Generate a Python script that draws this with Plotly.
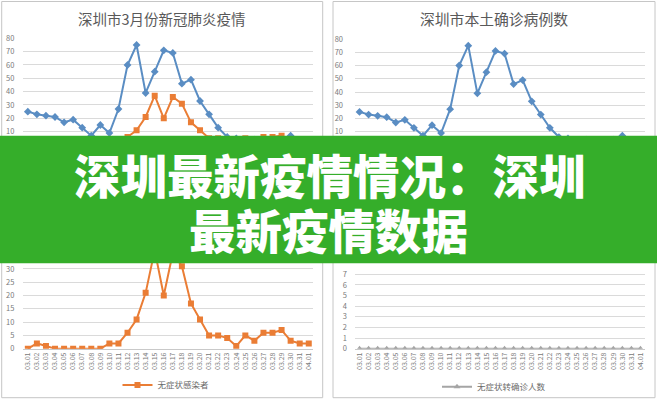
import plotly.graph_objects as go

dates = ["03.01", "03.02", "03.03", "03.04", "03.05", "03.06", "03.07", "03.08",
         "03.09", "03.10", "03.11", "03.12", "03.13", "03.14", "03.15", "03.16",
         "03.17", "03.18", "03.19", "03.20", "03.21", "03.22", "03.23", "03.24",
         "03.25", "03.26", "03.27", "03.28", "03.29", "03.30", "03.31", "04.01"]
local_confirmed = [25, 23, 22, 21, 17, 19, 13, 7, 15, 9, 27, 60, 75, 39, 55, 71,
                   69, 46, 49, 33, 23, 13, 6, 5, 3, 4, 3, 2, 4, 7, 3, 2]
asymptomatic = [0, 2, 1, 0, 0, 0, 0, 0, 0, 2, 2, 6, 11, 21, 37, 20,
                36, 31, 17, 11, 5, 5, 4, 1, 5, 3, 6, 6, 7, 3, 2, 2]
asym_to_confirmed = [0] * 32

top_ticks = [0, 10, 20, 30, 40, 50, 60, 70, 80]
top_ticktext = ["", "10", "20", "30", "40", "50", "60", "70", "80"]
bl_ticks = [0, 5, 10, 15, 20, 25, 30, 35, 40]
bl_ticktext = ["0", "5", "10", "15", "20", "25", "30", "", ""]
br_ticks = [0, 1, 2, 3, 4, 5, 6, 7, 8]
br_ticktext = ["0", "1", "2", "3", "4", "5", "6", "7", ""]

title_left = "深圳市3月份新冠肺炎疫情"
title_right = "深圳市本土确诊病例数"
name_asym = "无症状感染者"
name_conv = "无症状转确诊人数"
name_conf = "本土确诊病例"
banner_line1 = "深圳最新疫情情况：深圳"
banner_line2 = "最新疫情数据"

W, H = 657, 400
BLUE = "#5a8dc3"
ORANGE = "#ea7d35"
GRAY = "#a5a5a5"
GRID = "#dadada"
TXT = "#7a7a7a"
FONT = "Noto Sans CJK SC"
GREEN = "#35ae2a"


def px(v):
    return v / W


def py(v):
    return 1 - v / H


fig = go.Figure()

fig.add_trace(go.Scatter(x=dates, y=local_confirmed, name=name_conf, mode="lines+markers",
                         line=dict(color=BLUE, width=2), marker=dict(symbol="diamond", size=6, color=BLUE),
                         xaxis="x", yaxis="y", showlegend=False))
fig.add_trace(go.Scatter(x=dates, y=asymptomatic, name=name_asym, mode="lines+markers",
                         line=dict(color=ORANGE, width=2), marker=dict(symbol="square", size=6, color=ORANGE),
                         xaxis="x", yaxis="y", showlegend=False))
fig.add_trace(go.Scatter(x=dates, y=local_confirmed, name=name_conf, mode="lines+markers",
                         line=dict(color=BLUE, width=2), marker=dict(symbol="diamond", size=6, color=BLUE),
                         xaxis="x2", yaxis="y2", showlegend=False))
fig.add_trace(go.Scatter(x=dates, y=asymptomatic, name=name_asym, mode="lines+markers",
                         line=dict(color=ORANGE, width=2), marker=dict(symbol="square", size=6, color=ORANGE),
                         xaxis="x3", yaxis="y3", legend="legend"))
fig.add_trace(go.Scatter(x=dates, y=asym_to_confirmed, name=name_conv, mode="lines+markers",
                         line=dict(color=GRAY, width=2), marker=dict(symbol="triangle-up", size=6, color=GRAY),
                         xaxis="x4", yaxis="y4", legend="legend2"))

xcommon = dict(type="category", range=[-0.5, 31.5], showgrid=False, zeroline=False,
               showline=True, linecolor="#c9c9c9", linewidth=1, ticks="", automargin=False,
               tickangle=-90, tickfont=dict(family=FONT, size=7, color=TXT), fixedrange=True)
ycommon = dict(showgrid=True, gridcolor=GRID, gridwidth=1, zeroline=False, showline=False,
               ticks="", tickfont=dict(family=FONT, size=7.5, color=TXT), ticklabelstandoff=8,
               automargin=False, tickmode="array", fixedrange=True)

fig.update_layout(
    width=W, height=H, margin=dict(l=0, r=0, t=0, b=0, autoexpand=False),
    paper_bgcolor="white", plot_bgcolor="white",
    font=dict(family=FONT), hovermode=False,
    xaxis=dict(xcommon, domain=[px(23.3), px(313.3)], anchor="y", showticklabels=False),
    yaxis=dict(ycommon, domain=[py(145), py(38.3)], range=[0, 80], tickvals=top_ticks,
               ticktext=top_ticktext, anchor="x"),
    xaxis2=dict(xcommon, domain=[px(355), px(645)], anchor="y2", showticklabels=False),
    yaxis2=dict(ycommon, domain=[py(145), py(39)], range=[0, 80], tickvals=top_ticks,
                ticktext=top_ticktext, anchor="x2", ticklabelstandoff=11),
    xaxis3=dict(xcommon, domain=[px(23.3), px(313.3)], anchor="y3"),
    yaxis3=dict(ycommon, domain=[py(348.7), py(242.3)], range=[0, 40], tickvals=bl_ticks,
                ticktext=bl_ticktext, anchor="x3"),
    xaxis4=dict(xcommon, domain=[px(355), px(645)], anchor="y4"),
    yaxis4=dict(ycommon, domain=[py(348.7), py(263.7)], range=[0, 8], tickvals=br_ticks,
                ticktext=br_ticktext, anchor="x4", ticklabelstandoff=7),
    legend=dict(x=px(166), y=py(385), xanchor="center", yanchor="middle", orientation="h",
                font=dict(family=FONT, size=8.5, color="#6a6a6a"), bgcolor="rgba(0,0,0,0)",
                itemwidth=30),
    legend2=dict(x=px(494), y=py(386.7), xanchor="center", yanchor="middle", orientation="h",
                 font=dict(family=FONT, size=8.5, color="#6a6a6a"), bgcolor="rgba(0,0,0,0)",
                 itemwidth=30),
    showlegend=True,
)

shapes = [
    dict(type="rect", xref="paper", yref="paper", x0=px(1.7), x1=px(322.7), y0=py(397.7), y1=py(1.5),
         line=dict(color="#c6c6c6", width=1), fillcolor="rgba(0,0,0,0)", layer="below"),
    dict(type="rect", xref="paper", yref="paper", x0=px(333), x1=px(655), y0=py(397.7), y1=py(1.5),
         line=dict(color="#c6c6c6", width=1), fillcolor="rgba(0,0,0,0)", layer="below"),
    dict(type="rect", xref="paper", yref="paper", x0=0, x1=1, y0=py(263.3), y1=py(135.7),
         line=dict(width=0), fillcolor=GREEN, layer="above"),
]
fig.update_layout(shapes=shapes)

annotations = [
    dict(text=title_left, x=px(162), y=py(18.3), xref="paper", yref="paper", showarrow=False,
         xanchor="center", yanchor="middle", font=dict(family=FONT, size=14.5, color="#595959")),
    dict(text=title_right, x=px(494), y=py(18.3), xref="paper", yref="paper", showarrow=False,
         xanchor="center", yanchor="middle", font=dict(family=FONT, size=14.8, color="#595959")),
    dict(text=banner_line1, x=px(330.4), y=py(173.5), xref="paper", yref="paper", showarrow=False,
         xanchor="center", yanchor="middle",
         font=dict(family=FONT, size=46.5, color="white", weight=900)),
    dict(text=banner_line2, x=px(328.3), y=py(228.5), xref="paper", yref="paper", showarrow=False,
         xanchor="center", yanchor="middle",
         font=dict(family=FONT, size=46.5, color="white", weight=900)),
]
fig.update_layout(annotations=annotations)

fig.write_html("out.html", config={"displayModeBar": False, "staticPlot": True},
               post_script="document.body.style.margin='0';document.body.style.overflow='hidden';")
